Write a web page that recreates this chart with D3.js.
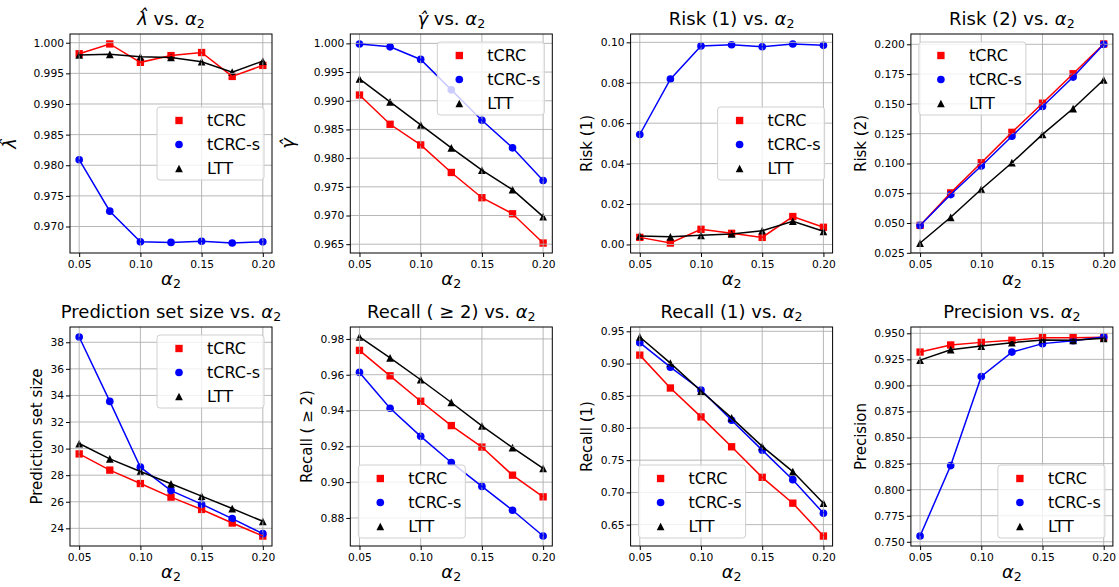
<!DOCTYPE html>
<html lang="en">
<head>
<meta charset="utf-8">
<title>tCRC vs alpha_2</title>
<script src="https://d3js.org/d3.v7.min.js"></script>
<style>
  body { margin: 0; background: #fff; }
  svg { font-family: "DejaVu Sans", sans-serif; }
  .grid line { stroke: #b0b0b0; stroke-width: 0.9; }
  .tick-label { font-size: 10.7px; fill: #000; }
  .title { font-size: 18px; text-anchor: middle; }
  .xlab { font-size: 18px; text-anchor: middle; }
  .ylab { font-size: 15px; text-anchor: middle; }
  .ylab.math { font-size: 18px; }
  .leg text { font-size: 16px; }
</style>
</head>
<body>
<svg id="chart" width="1119" height="587"></svg>
<script>
// ---- data ---------------------------------------------------
var alphas = [0.05, 0.075, 0.10, 0.125, 0.15, 0.175, 0.20];
var methods = ['tCRC', 'tCRC-s', 'LTT'];
var xTicks = [0.05, 0.10, 0.15, 0.20];

var lamTcrc  = [0.9982, 0.9998, 0.9968, 0.9979, 0.9984, 0.9945, 0.9963];
var lamTcrcS = [0.9809, 0.9725, 0.9675, 0.9674, 0.9676, 0.9673, 0.9675];
var lamLtt   = [0.9980, 0.9981, 0.9977, 0.9976, 0.9969, 0.9952, 0.9970];
var lamTicks = [0.970, 0.975, 0.980, 0.985, 0.990, 0.995, 1.000];

var gamTcrc  = [0.9910, 0.9859, 0.9823, 0.9775, 0.9731, 0.9703, 0.9652];
var gamTcrcS = [0.9999, 0.9994, 0.9972, 0.9919, 0.9866, 0.9818, 0.9761];
var gamLtt   = [0.9938, 0.9898, 0.9858, 0.9818, 0.9779, 0.9745, 0.9698];
var gamTicks = [0.965, 0.970, 0.975, 0.980, 0.985, 0.990, 0.995, 1.000];

var r1Tcrc  = [0.0035, 0.0007, 0.0075, 0.0055, 0.0035, 0.0138, 0.0085];
var r1TcrcS = [0.0544, 0.0818, 0.0982, 0.0988, 0.0978, 0.0992, 0.0985];
var r1Ltt   = [0.0042, 0.0038, 0.0045, 0.0052, 0.0068, 0.0115, 0.0065];
var r1Ticks = [0.00, 0.02, 0.04, 0.06, 0.08, 0.10];

var r2Tcrc  = [0.0480, 0.0753, 0.1006, 0.1261, 0.1506, 0.1753, 0.2003];
var r2TcrcS = [0.0480, 0.0739, 0.0978, 0.1228, 0.1478, 0.1725, 0.2000];
var r2Ltt   = [0.0332, 0.0548, 0.0784, 0.1006, 0.1244, 0.1461, 0.1702];
var r2Ticks = [0.025, 0.050, 0.075, 0.100, 0.125, 0.150, 0.175, 0.200];

var sizeTcrc  = [29.60, 28.38, 27.37, 26.35, 25.42, 24.40, 23.42];
var sizeTcrcS = [38.40, 33.55, 28.60, 26.84, 25.82, 24.73, 23.60];
var sizeLtt   = [30.38, 29.23, 28.28, 27.35, 26.42, 25.49, 24.53];
var sizeTicks = [24, 26, 28, 30, 32, 34, 36, 38];

var rec2Tcrc  = [0.9736, 0.9594, 0.9452, 0.9316, 0.9196, 0.9039, 0.8918];
var rec2TcrcS = [0.9613, 0.9413, 0.9256, 0.9110, 0.8976, 0.8843, 0.8699];
var rec2Ltt   = [0.9811, 0.9694, 0.9572, 0.9445, 0.9314, 0.9193, 0.9077];
var rec2Ticks = [0.88, 0.90, 0.92, 0.94, 0.96, 0.98];

var rec1Tcrc  = [0.9130, 0.8620, 0.8172, 0.7708, 0.7234, 0.6833, 0.6323];
var rec1TcrcS = [0.9323, 0.8943, 0.8589, 0.8120, 0.7656, 0.7198, 0.6677];
var rec1Ltt   = [0.9412, 0.9005, 0.8573, 0.8156, 0.7714, 0.7323, 0.6833];
var rec1Ticks = [0.65, 0.70, 0.75, 0.80, 0.85, 0.90, 0.95];

var precTcrc  = [0.9320, 0.9388, 0.9413, 0.9433, 0.9458, 0.9458, 0.9462];
var precTcrcS = [0.7555, 0.8231, 0.9086, 0.9320, 0.9401, 0.9429, 0.9465];
var precLtt   = [0.9243, 0.9343, 0.9378, 0.9410, 0.9436, 0.9433, 0.9452];
var precTicks = [0.750, 0.775, 0.800, 0.825, 0.850, 0.875, 0.900, 0.925, 0.950];

// ---- panel table (built from the arrays above) -----------------
var panels = [
  { title: [{t: 'λ\u0302', it: 1}, {t: ' vs. '}], ylab: [{t: 'λ\u0302', it: 1}], math: 1, labGap: 17,
    series: [lamTcrc, lamTcrcS, lamLtt], ticks: lamTicks, fmt: '.3f', legend: 'center right' },
  { title: [{t: 'γ\u0302', it: 1}, {t: ' vs. '}], ylab: [{t: 'γ\u0302', it: 1}], math: 1, labGap: 20,
    series: [gamTcrc, gamTcrcS, gamLtt], ticks: gamTicks, fmt: '.3f', legend: 'upper right' },
  { title: [{t: 'Risk (1) vs. '}], ylab: [{t: 'Risk (1)'}], labGap: 8.5,
    series: [r1Tcrc, r1TcrcS, r1Ltt], ticks: r1Ticks, fmt: '.2f', legend: 'center right' },
  { title: [{t: 'Risk (2) vs. '}], ylab: [{t: 'Risk (2)'}], labGap: 8.5,
    series: [r2Tcrc, r2TcrcS, r2Ltt], ticks: r2Ticks, fmt: '.3f', legend: 'upper left' },
  { title: [{t: 'Prediction set size vs. '}], ylab: [{t: 'Prediction set size'}], labGap: 8.5,
    series: [sizeTcrc, sizeTcrcS, sizeLtt], ticks: sizeTicks, fmt: 'd', legend: 'upper right' },
  { title: [{t: 'Recall ( ≥ 2) vs. '}], ylab: [{t: 'Recall ( ≥ 2)'}], labGap: 8.5,
    series: [rec2Tcrc, rec2TcrcS, rec2Ltt], ticks: rec2Ticks, fmt: '.2f', legend: 'lower left' },
  { title: [{t: 'Recall (1) vs. '}], ylab: [{t: 'Recall (1)'}], labGap: 8.5,
    series: [rec1Tcrc, rec1TcrcS, rec1Ltt], ticks: rec1Ticks, fmt: '.2f', legend: 'lower left' },
  { title: [{t: 'Precision vs. '}], ylab: [{t: 'Precision'}], labGap: 8.5,
    series: [precTcrc, precTcrcS, precLtt], ticks: precTicks, fmt: '.3f', legend: 'lower right' }
];

var colors = ['#ff0000', '#0000ff', '#000000'];
var triangle = {
  draw: function(ctx, size) {
    var r = Math.sqrt(size) / 2;
    ctx.moveTo(0, -r);
    ctx.lineTo(r, r);
    ctx.lineTo(-r, r);
    ctx.closePath();
  }
};
var shapes = [
  d3.symbol().type(d3.symbolSquare).size(54),
  d3.symbol().type(d3.symbolCircle).size(46),
  d3.symbol().type(triangle).size(60)
];

// layout
var colX = [70, 350.3, 630.6, 910.9];
var rowY = [34, 327];
var pw = 202, ph = 219;

var svg = d3.select('#chart');

function mathText(sel, parts) {
  parts.forEach(function(p) {
    var ts = sel.append('tspan').text(p.t);
    if (p.it) ts.style('font-style', 'italic');
    if (p.sub) ts.style('font-size', '0.7em').attr('dy', '0.22em');
  });
}
var alpha2 = [{t: 'α', it: 1}, {t: '2', sub: 1}];

var x = d3.scaleLinear()
  .domain([0.05 - 0.0075, 0.20 + 0.0075])
  .range([0, pw]);

panels.forEach(function(p, i) {
  var g = svg.append('g')
    .attr('transform', 'translate(' + colX[i % 4] + ',' + rowY[Math.floor(i / 4)] + ')');

  var all = d3.merge(p.series);
  var lo = d3.min(all), hi = d3.max(all), pad = (hi - lo) * 0.05;
  var y = d3.scaleLinear()
    .domain([lo - pad, hi + pad])
    .range([ph, 0]);

  // scatter markers sit under the grid (matplotlib zorder)
  p.series.forEach(function(s, k) {
    g.append('g').selectAll('path')
      .data(s)
      .enter()
      .append('path')
      .attr('d', shapes[k])
      .attr('transform', function(d, j) {
        return 'translate(' + x(alphas[j]) + ',' + y(d) + ')';
      })
      .style('fill', colors[k]);
  });

  // grid
  var grid = g.append('g').attr('class', 'grid');
  grid.selectAll('.gx')
    .data(xTicks)
    .enter()
    .append('line')
    .attr('x1', function(d) { return x(d); })
    .attr('x2', function(d) { return x(d); })
    .attr('y1', 0)
    .attr('y2', ph);
  grid.selectAll('.gy')
    .data(p.ticks)
    .enter()
    .append('line')
    .attr('x1', 0)
    .attr('x2', pw)
    .attr('y1', function(d) { return y(d); })
    .attr('y2', function(d) { return y(d); });

  // connecting lines
  var line = d3.line()
    .x(function(d, j) { return x(alphas[j]); })
    .y(function(d) { return y(d); });
  p.series.forEach(function(s, k) {
    g.append('path')
      .datum(s)
      .attr('d', line)
      .style('fill', 'none')
      .style('stroke', colors[k])
      .style('stroke-width', 1.5);
  });

  // axes
  var xAxis = g.append('g')
    .attr('transform', 'translate(0,' + ph + ')')
    .call(d3.axisBottom(x).tickValues(xTicks).tickFormat(d3.format('.2f')).tickSize(4).tickPadding(3));
  var yAxis = g.append('g')
    .call(d3.axisLeft(y).tickValues(p.ticks).tickFormat(d3.format(p.fmt)).tickSize(4).tickPadding(2));
  [xAxis, yAxis].forEach(function(a) {
    a.select('.domain').remove();
    a.selectAll('line').style('stroke', '#000').style('stroke-width', 1);
    a.selectAll('text').attr('class', 'tick-label');
    a.attr('font-family', null).attr('font-size', null);
  });
  g.append('rect')
    .attr('width', pw)
    .attr('height', ph)
    .style('fill', 'none')
    .style('stroke', '#000')
    .style('stroke-width', 1);

  // titles and labels
  var title = g.append('text')
    .attr('class', 'title')
    .attr('x', pw / 2)
    .attr('y', -9);
  mathText(title, p.title.concat(alpha2));

  var xl = g.append('text')
    .attr('class', 'xlab')
    .attr('x', pw / 2)
    .attr('y', ph + 32);
  mathText(xl, alpha2);

  var maxW = 0;
  yAxis.selectAll('text').each(function() {
    maxW = Math.max(maxW, this.getComputedTextLength());
  });
  var tickLeft = -6 - maxW;
  var yl = g.append('text')
    .attr('class', p.math ? 'ylab math' : 'ylab')
    .attr('transform', 'translate(' + (tickLeft - p.labGap) + ',' + (ph / 2) + ') rotate(-90)');
  mathText(yl, p.ylab);

  // legend
  var lw = 107, lh = 73, m = 8;
  var lx = p.legend.indexOf('left') >= 0 ? m : pw - m - lw;
  var ly = p.legend.indexOf('upper') >= 0 ? m : (p.legend.indexOf('lower') >= 0 ? ph - m - lh : (ph - lh) / 2);
  var leg = g.append('g')
    .attr('class', 'leg')
    .attr('transform', 'translate(' + lx + ',' + ly + ')');
  leg.append('rect')
    .attr('width', lw)
    .attr('height', lh)
    .attr('rx', 3)
    .style('fill', 'rgba(255,255,255,0.8)')
    .style('stroke', '#d0d0d0')
    .style('stroke-width', 1);
  var rows = leg.selectAll('.row')
    .data(methods)
    .enter()
    .append('g')
    .attr('transform', function(d, k) { return 'translate(0,' + (13.5 + k * 24) + ')'; });
  rows.append('path')
    .attr('d', function(d, k) { return shapes[k](); })
    .attr('transform', 'translate(22,0)')
    .style('fill', function(d, k) { return colors[k]; });
  rows.append('text')
    .attr('x', 50)
    .attr('dy', '0.35em')
    .text(function(d) { return d; });
});
</script>
</body>
</html>
